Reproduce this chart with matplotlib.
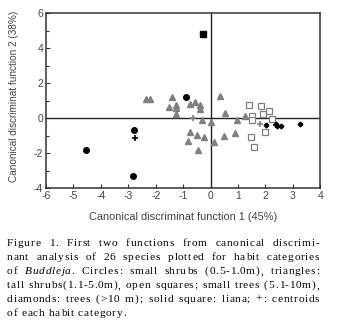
import matplotlib
matplotlib.use('Agg')
import matplotlib.pyplot as plt

# small shrubs (circles)
circ_x = [-0.90, -2.78, -4.55, -2.82]
circ_y = [1.20, -0.65, -1.81, -3.30]
# tall shrubs (triangles)
tri_x = [-2.37, -2.22, -1.42, -1.52, -1.26, -1.27, -1.27, -0.75, -0.56, -0.37, -0.39,
         -0.33, -0.75, -0.84, -0.51, -0.24, -0.45, 0.03, 0.11, 0.34, 0.54, 0.50, 0.88,
         0.95, 1.25]
tri_y = [1.09, 1.09, 1.20, 0.67, 0.78, 0.61, 0.23, 0.84, 0.93, 0.78, 0.55,
         -0.10, -0.78, -1.30, -0.93, -1.09, -1.81, -0.21, -1.33, 1.28, 0.32, -1.01, -0.86,
         -0.10, 0.15]
# small trees (open squares)
sq_x = [1.41, 1.83, 1.52, 1.52, 1.92, 2.12, 2.23, 1.46, 1.98, 1.58]
sq_y = [0.74, 0.70, 0.11, -0.11, 0.25, 0.44, -0.04, -1.09, -0.76, -1.62]
# trees (diamonds)
dia_x = [2.02, 2.38, 2.43, 2.57, 3.26]
dia_y = [-0.40, -0.32, -0.44, -0.44, -0.34]
# liana (solid square)
lia_x = [-0.27]
lia_y = [4.80]
# centroids
cen_black_x = [-2.77, 2.40]
cen_black_y = [-1.12, -0.38]
cen_gray_x = [-0.65, 1.79]
cen_gray_y = [0.02, -0.30]

x_ticks = [-6, -5, -4, -3, -2, -1, 0, 1, 2, 3, 4]
y_ticks = [-4, -2, 0, 2, 4, 6]

caption = [
    "Figure 1. First two functions from canonical discrimi-",
    "nant analysis of 26 species plotted for habit categories",
    "of Buddleja. Circles: small shrubs (0.5-1.0m), triangles:",
    "tall shrubs(1.1-5.0m), open squares; small trees (5.1-10m),",
    "diamonds: trees (>10 m); solid square: liana; +: centroids",
    "of each habit category.",
]

W, H = 337, 328
fig = plt.figure(figsize=(W / 100, H / 100), dpi=100)
ax = fig.add_axes([46 / W, 1 - 188.3 / H, 274.3 / W, 175 / H])

gray = '#808080'
ax.axhline(0, color='#222222', lw=1.0, zorder=1)
ax.axvline(0, color='#222222', lw=1.0, zorder=1)
ax.plot(tri_x, tri_y, '^', color=gray, ms=4.2, mec=gray, zorder=3)
ax.plot(sq_x, sq_y, 's', mfc='white', mec=gray, ms=4.6, mew=0.9, zorder=3)
ax.plot(circ_x, circ_y, 'o', color='black', ms=4.0, zorder=3)
ax.plot(dia_x, dia_y, 'D', color='black', ms=2.4, zorder=3)
ax.plot(lia_x, lia_y, 's', color='black', ms=5.0, zorder=3)
ax.plot(cen_black_x, cen_black_y, '+', color='black', ms=5, mew=1.2, zorder=4)
ax.plot(cen_gray_x, cen_gray_y, '+', color=gray, ms=5, mew=1.2, zorder=4)

ax.set_xlim(-6, 4)
ax.set_ylim(-4, 6)
ax.set_xticks(x_ticks)
ax.set_xticklabels([str(t) for t in x_ticks])
ax.set_yticks(y_ticks)
ax.set_yticklabels([str(t) for t in y_ticks])
ax.set_yticks(range(-4, 7), minor=True)
ax.tick_params(direction='in', length=3, width=0.8, labelsize=7.5, colors='#333333',
               labelcolor='#444444', pad=2, which='both')
ax.tick_params(which='minor', length=2)
for sp in ax.spines.values():
    sp.set_color('#333333')
    sp.set_linewidth(1.1)
for lab in ax.get_xticklabels() + ax.get_yticklabels():
    lab.set_family('Liberation Sans')

ax.set_xlabel('Canonical discriminat function 1 (45%)', family='Liberation Sans',
              fontsize=7.9, color='#444444')
ax.set_ylabel('Canonical discriminat function 2 (38%)', family='Liberation Sans',
              fontsize=7.2, color='#444444')
ax.xaxis.set_label_coords(0.5, -(212 - 188.3) / 175)
ax.yaxis.set_label_coords(-(46 - 19) / 274.3, (188.3 - 96) / 175)

# caption: letter-spaced and justified, set character by character
fig.canvas.draw()
r = fig.canvas.get_renderer()
left, right = 7, 319
fs = 8.2
space_w = fs * 100 / 72 * 0.25
cache = {}


def char_w(c, st):
    if c == ' ':
        return space_w
    if (c, st) not in cache:
        t = fig.text(0, 0, c, family='Liberation Serif', fontsize=fs, style=st)
        cache[(c, st)] = t.get_window_extent(r).width
        t.remove()
    return cache[(c, st)]


def styled(line):
    out = []
    i0 = line.find('Buddleja')
    for k, c in enumerate(line):
        it = i0 >= 0 and i0 <= k < i0 + 8
        out.append((c, 'italic' if it else 'normal'))
    return out


lines = [styled(l) for l in caption]
track = 0.7
for ch in lines[:-1]:
    sw = sum(char_w(c, s) for c, s in ch)
    track = min(track, (right - left - sw) / (len(ch) - 1))

for i, ch in enumerate(lines):
    yy = 1 - (244 + i * 13.8) / H
    sw = sum(char_w(c, s) for c, s in ch) + track * (len(ch) - 1)
    nsp = sum(1 for c, s in ch if c == ' ')
    extra = (right - left - sw) / nsp if i < len(lines) - 1 else 0
    x = left
    for c, s in ch:
        if c != ' ':
            fig.text(x / W, yy, c, family='Liberation Serif', fontsize=fs, style=s,
                     va='center', ha='left', color='#000000')
        x += char_w(c, s) + track
        if c == ' ':
            x += extra

fig.savefig('out.png', dpi=100)
